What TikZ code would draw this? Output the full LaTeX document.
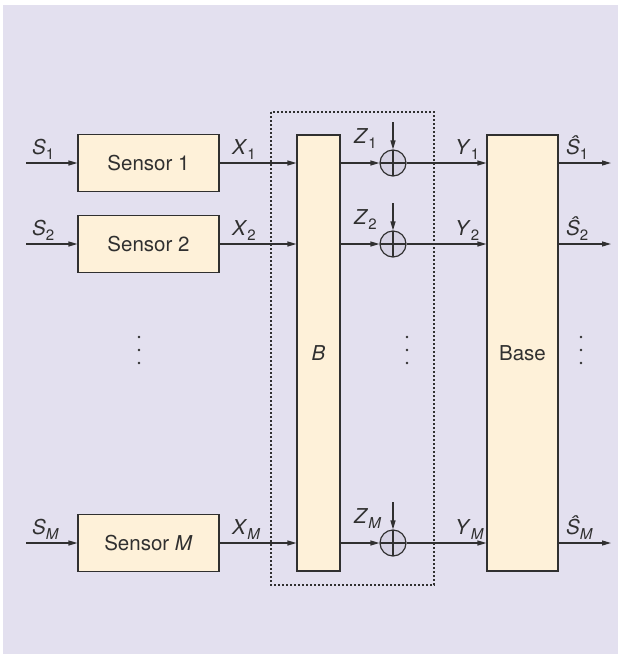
\documentclass[tikz,border=0pt]{standalone}
\usepackage{fontspec}
\setmainfont{TeX Gyre Heros}
\usetikzlibrary{arrows.meta}
\definecolor{bglav}{HTML}{E3E0EF}
\definecolor{boxfill}{HTML}{FEF1D9}
\definecolor{addfill}{HTML}{D6D3E4}
\definecolor{ink}{HTML}{303030}
\newcommand\lbl[2]{\textit{#1}\raisebox{-0.5ex}{\fontsize{15}{15}\selectfont #2}}
\tikzset{
  blk/.style={draw=ink, fill=boxfill, line width=1.2pt, inner sep=0pt, font=\fontsize{20.5}{24}\selectfont, text=ink},
  adder/.style={circle, draw=ink, fill=addfill, line width=1.2pt, minimum size=26pt, inner sep=0pt,
    path picture={\draw[ink, line width=1.2pt] (path picture bounding box.north) -- (path picture bounding box.south)
      (path picture bounding box.west) -- (path picture bounding box.east);}},
  sig/.style={draw=ink, line width=1.2pt, -{Triangle[length=9pt,width=5pt]}},
  lab/.style={font=\fontsize{20.5}{24}\selectfont, text=ink, inner sep=0pt, anchor=base west},
  dotbox/.style={draw=ink, line width=2pt, dash pattern=on 1.8pt off 2.2pt},
  vdot/.style={fill=ink, circle, inner sep=0pt, minimum size=2.8pt}
}
\begin{document}
\begin{tikzpicture}[x=1pt,y=-1pt]
\useasboundingbox (0,0) rectangle (618,654);
\fill[white] (0,0) rectangle (618,654);
\fill[bglav] (3,5) rectangle (618,654);

% dotted box
\draw[dotbox] (271,112) rectangle (434,585);

% big blocks
\node[blk, minimum width=43pt, minimum height=436pt] (B) at (318.5,353) {\textit{B}};
\node[blk, minimum width=71pt, minimum height=436pt] (base) at (522.5,353) {Base};

% rows
\foreach \r/\y/\s/\sname in {1/163/1/Sensor 1, 2/244/2/Sensor 2, 3/543/\textit{M}/{Sensor \textit{M}}} {
  \coordinate (in\r) at (26,\y);
  \coordinate (out\r) at (611,\y);
  \coordinate (zt\r) at (393,\y-41);
  \node[blk, minimum width=141pt, minimum height=57pt] (sen\r) at (148.5,\y) {\sname};
  \node[adder] (add\r) at (393,\y) {};
  \draw[sig] (in\r) -- (sen\r.west);
  \draw[sig] (sen\r.east) -- (B.west |- sen\r.east);
  \draw[sig] (B.east |- add\r.west) -- (add\r.west);
  \draw[sig] (add\r.east) -- (base.west |- add\r.east);
  \draw[sig] (base.east |- add\r.east) -- (out\r);
  \draw[sig] (zt\r) -- (add\r.north);
  \node[lab] (sl\r) at (32,\y-9) {\lbl{S}{\s}};
  \node[lab] (xl\r) at (232,\y-9) {\lbl{X}{\s}};
  \node[lab] (zl\r) at (354,\y-20) {\lbl{Z}{\s}};
  \node[lab] (yl\r) at (455,\y-9) {\lbl{Y}{\s}};
  \node[lab] (hl\r) at (566,\y-9) {\lbl{Ŝ}{\s}};
}

% vertical ellipses
\foreach \x/\n in {139/a, 407/b, 581/c} {
  \node[vdot] (\n1) at (\x,337) {};
  \node[vdot] (\n2) at (\x,350) {};
  \node[vdot] (\n3) at (\x,363) {};
}
\end{tikzpicture}
\end{document}
